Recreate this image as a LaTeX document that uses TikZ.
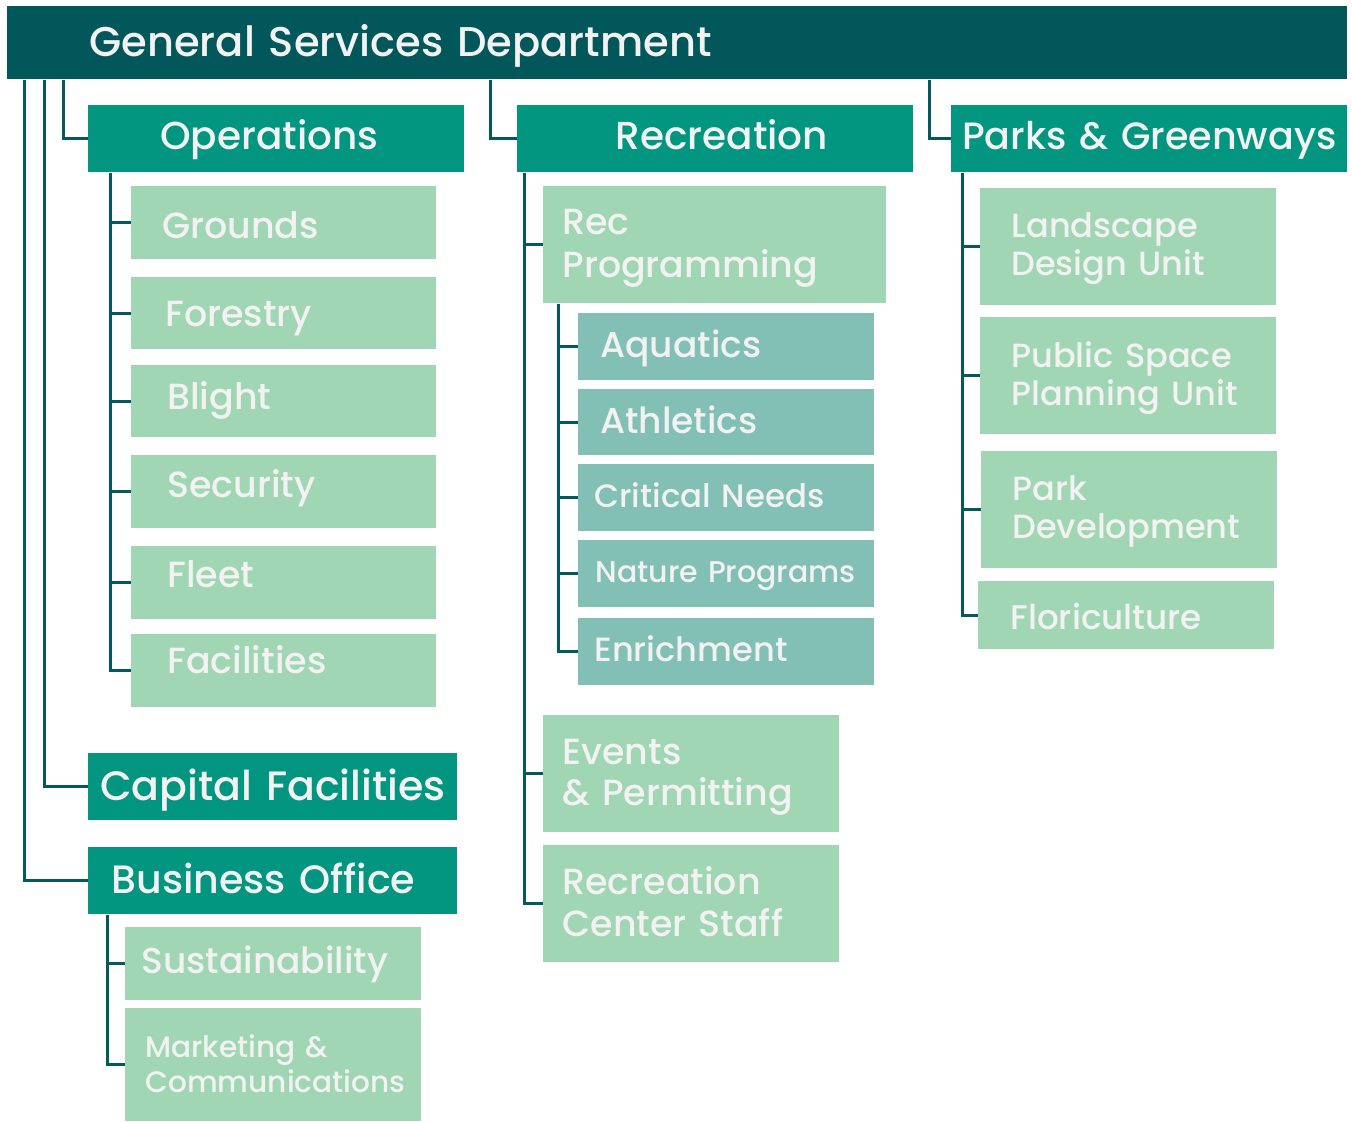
\documentclass[tikz,border=0pt]{standalone}
\usepackage{fontspec}
\IfFontExistsTF{Poppins Medium}{\setmainfont{Poppins Medium}}{\setmainfont{Poppins}}
\definecolor{gsdark}{HTML}{02575A}
\definecolor{gsmid}{HTML}{029680}
\definecolor{gslight}{HTML}{A1D6B4}
\definecolor{gssub}{HTML}{82BFB5}
\definecolor{gstext}{HTML}{F2F2F2}
\definecolor{gsline}{HTML}{05585C}
\tikzset{
  unit/.style n args={3}{anchor=north west, inner sep=0pt,
    minimum width=#1*0.5pt, minimum height=#2*0.5pt, text width=(#1-2*#3)*0.5pt},
  box/.style={text=gstext, align=left,
    execute at begin node={\vrule height 0.9em depth 0pt width 0pt},
    execute at end node={\vrule height 0pt depth 0.25em width 0pt}},
  lift/.style={execute at end node={\vrule height 0pt depth \dimexpr 0.25em+#1pt\relax width 0pt}},
  sink/.style={execute at begin node={\vrule height \dimexpr 0.9em+#1pt\relax depth 0pt width 0pt}},
  head/.style={box, fill=gsdark, font=\fontsize{20.8}{25}\selectfont},
  division/.style={box, fill=gsmid, align=center, font=\fontsize{19.5}{23}\selectfont},
  section/.style={box, fill=gslight, font=\fontsize{18.2}{21}\selectfont},
  program/.style={box, fill=gssub, font=\fontsize{18}{21}\selectfont},
  link/.style={draw=gsline, line width=1.5pt}
}
\begin{document}
\begin{tikzpicture}[x=0.5pt,y=-0.5pt]
  \fill[white] (0,0) rectangle (1352,1122);
  \useasboundingbox (0,0) rectangle (1352,1122);

  \node[head, unit={1340}{73}{82}] (gsd) at (7,6) {General Services Department};

  \node[division, unit={376}{67}{72}, align=left, lift=2] (ops) at (88,105) {Operations};
  \node[division, unit={396}{67}{98}, align=left, lift=2] (rec) at (517,105) {Recreation};
  \node[division, unit={396}{67}{0}, lift=2, font=\fontsize{19.05}{23}\selectfont] (parks) at (951,105) {Parks \& Greenways};
  \node[division, unit={369}{67}{0}, font=\fontsize{20.55}{24}\selectfont] (capital) at (88,753) {Capital Facilities};
  \node[division, unit={369}{67}{23}, align=left, font=\fontsize{19.8}{23}\selectfont] (business) at (88,847) {Business Office};

  \node[section, unit={305}{73}{31}, sink=4] (grounds) at (131,186) {Grounds};
  \node[section, unit={305}{72}{34}, sink=1] (forestry) at (131,277) {Forestry};
  \node[section, unit={305}{72}{36}, lift=4] (blight) at (131,365) {Blight};
  \node[section, unit={305}{73}{36}, lift=6] (security) at (131,455) {Security};
  \node[section, unit={305}{73}{36}, lift=7] (fleet) at (131,546) {Fleet};
  \node[section, unit={305}{73}{36}, lift=9] (facil) at (131,634) {Facilities};

  \node[section, unit={343}{117}{19}, font=\fontsize{18.2}{21.5}\selectfont] (recprog) at (543,186) {Rec\\Programming};
  \node[program, unit={296}{67}{22}, lift=1] (aquatics) at (578,313) {Aquatics};
  \node[program, unit={296}{66}{22}, lift=1] (athletics) at (578,389) {Athletics};
  \node[program, unit={296}{67}{16}, lift=1, font=\fontsize{16.2}{20}\selectfont] (critical) at (578,464) {Critical Needs};
  \node[program, unit={296}{67}{17}, lift=1, font=\fontsize{15}{18}\selectfont] (nature) at (578,540) {Nature Programs};
  \node[program, unit={296}{67}{16}, lift=1, font=\fontsize{16.8}{20}\selectfont] (enrich) at (578,618) {Enrichment};
  \node[section, unit={296}{117}{19}, font=\fontsize{18.2}{20.5}\selectfont] (events) at (543,715) {Events\\\& Permitting};
  \node[section, unit={296}{117}{19}, font=\fontsize{18.2}{21}\selectfont] (reccenter) at (543,845) {Recreation\\Center Staff};

  \node[section, unit={296}{117}{31}, lift=1, font=\fontsize{16.8}{19}\selectfont] (landscape) at (980,188) {Landscape\\Design Unit};
  \node[section, unit={296}{117}{31}, font=\fontsize{16.8}{19}\selectfont] (publicspace) at (980,317) {Public Space\\Planning Unit};
  \node[section, unit={296}{117}{31}, lift=1, font=\fontsize{16.8}{19}\selectfont] (parkdev) at (981,451) {Park\\Development};
  \node[section, unit={296}{68}{32}, sink=3, font=\fontsize{17.1}{19}\selectfont] (flori) at (978,581) {Floriculture};

  \node[section, unit={296}{73}{16}, lift=2, font=\fontsize{18}{21}\selectfont] (sustain) at (125,927) {Sustainability};
  \node[section, unit={296}{113}{20}, font=\fontsize{14.8}{17.5}\selectfont] (marketing) at (125,1008) {Marketing \&\\Communications};

  \draw[link] ([shift={(17,0)}]gsd.south west) |- (business.west);
  \draw[link] ([shift={(37,0)}]gsd.south west) |- (capital.west);
  \draw[link] ([shift={(56,0)}]gsd.south west) |- (ops.west);
  \draw[link] ([shift={(483,0)}]gsd.south west) |- (rec.west);
  \draw[link] ([shift={(922,0)}]gsd.south west) |- (parks.west);

  \foreach \c in {grounds,forestry,blight,security,fleet,facil}
    \draw[link] ([shift={(22,0)}]ops.south west) |- (\c.west);
  \foreach \c in {recprog,events,reccenter}
    \draw[link] ([shift={(7,0)}]rec.south west) |- (\c.west);
  \foreach \c in {aquatics,athletics,critical,nature,enrich}
    \draw[link] ([shift={(15,0)}]recprog.south west) |- (\c.west);
  \foreach \c in {landscape,publicspace,parkdev,flori}
    \draw[link] ([shift={(11,0)}]parks.south west) |- (\c.west);
  \foreach \c in {sustain,marketing}
    \draw[link] ([shift={(19,0)}]business.south west) |- (\c.west);
\end{tikzpicture}
\end{document}
